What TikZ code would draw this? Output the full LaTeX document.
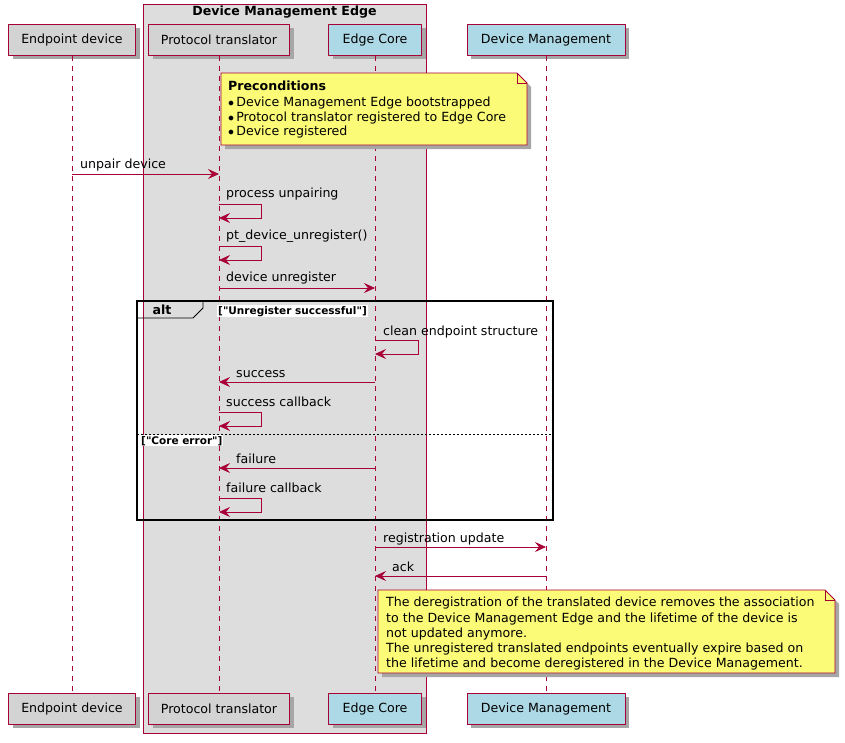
\documentclass[tikz,border=0pt]{standalone}
\usepackage{fontspec}
\setmainfont{DejaVu Sans}[Ligatures=TeXOff]
\usetikzlibrary{arrows.meta,calc}
\definecolor{crim}{HTML}{A80036}
\definecolor{pbox}{HTML}{D3D3D3}
\definecolor{lblue}{HTML}{ADD8E6}
\definecolor{grp}{HTML}{DDDDDD}
\definecolor{notey}{HTML}{FBFB77}
\begin{document}
\begin{tikzpicture}[x=1pt,y=-1pt,font=\fontsize{12.6}{14}\selectfont,
  part/.style={draw=crim,line width=0.8pt,minimum height=31pt,inner xsep=6pt,anchor=north},
  shad/.style={fill=black!35},
  life/.style={crim,dash pattern=on 5pt off 5pt,line width=0.7pt},
  msg/.style={crim,line width=0.8pt,-{Stealth[length=11pt,width=10pt,inset=4pt]}},
  lbl/.style={inner sep=0pt,anchor=base west},
  cond/.style={lbl,font=\fontsize{10.5}{12}\selectfont\bfseries,fill=white,inner xsep=1pt,inner ysep=1pt},
  note/.style={fill=notey,draw=crim,line width=0.8pt}]
\useasboundingbox (0,0) rectangle (845,742);
% group
\fill[grp] (143,4) rectangle (426,733);
\draw[crim,line width=0.8pt] (143,4) rectangle (426,733);
\node[font=\fontsize{12.6}{14}\selectfont\bfseries] (gt) at (284.5,12) {Device Management Edge};
% participants
\foreach \n/\x/\w/\c/\t in {ed/72/127/pbox/Endpoint device, pt/219/141/pbox/Protocol translator, ec/375/93/lblue/Edge Core, dm/546/158/lblue/Device Management}{
  \fill[shad] (\x-\w/2+4,28) rectangle (\x+\w/2+4,59);
  \node[part,fill=\c,minimum width=\w] (\n t) at (\x,24) {\t};
  \fill[shad] (\x-\w/2+4,697) rectangle (\x+\w/2+4,728);
  \node[part,fill=\c,minimum width=\w] (\n b) at (\x,693) {\t};
  \draw[life] (\n t.south) -- (\n b.north);
}
% note 1
\fill[shad] (225,77) -- (521,77) -- (531,87) -- (531,149) -- (225,149) -- cycle;
\draw[note] (221,73) -- (517,73) -- (527,83) -- (527,145) -- (221,145) -- cycle;
\draw[crim,line width=0.8pt] (517,73) -- (517,83) -- (527,83);
\node[lbl,font=\fontsize{12.6}{14}\selectfont\bfseries] (n1a) at (228,90) {Preconditions};
\node[lbl] (n1b) at (228,106) {$\bullet$\,Device Management Edge bootstrapped};
\node[lbl] (n1c) at (228,121) {$\bullet$\,Protocol translator registered to Edge Core};
\node[lbl] (n1d) at (228,135) {$\bullet$\,Device registered};
% messages
\draw[msg] (72,174) -- (219,174);
\node[lbl] (m1) at (80,168) {unpair device};
\draw[msg] (219,204) -- (261,204) -- (261,218) -- (219,218);
\node[lbl] (m2) at (226,197) {process unpairing};
\draw[msg] (219,246) -- (261,246) -- (261,260) -- (219,260);
\node[lbl] (m3) at (226,239) {pt\_device\_unregister()};
\draw[msg] (219,288) -- (375,288);
\node[lbl] (m4) at (226,281) {device unregister};
% alt
\draw[line width=1.5pt] (137,301) rectangle (553,520);
\draw[line width=0.8pt] (137,318) -- (193,318) -- (203,308) -- (203,301);
\node[font=\fontsize{12.6}{14}\selectfont\bfseries] (alt) at (162,310) {alt};
\node[cond] (c1) at (217,314) {["Unregister successful"]};
\draw[msg] (375,340) -- (418,340) -- (418,354) -- (375,354);
\node[lbl] (m5) at (383,335) {clean endpoint structure};
\draw[msg] (375,382) -- (219,382);
\node[lbl] (m6) at (236,377) {success};
\draw[msg] (219,412) -- (261,412) -- (261,426) -- (219,426);
\node[lbl] (m7) at (226,406) {success callback};
\draw[dash pattern=on 2pt off 2pt,line width=0.6pt] (137,434) -- (553,434);
\node[cond] (c2) at (140,444) {["Core error"]};
\draw[msg] (375,468) -- (219,468);
\node[lbl] (m8) at (236,463) {failure};
\draw[msg] (219,498) -- (261,498) -- (261,512) -- (219,512);
\node[lbl] (m9) at (226,492) {failure callback};
\draw[msg] (375,547) -- (546,547);
\node[lbl] (m10) at (383,542) {registration update};
\draw[msg] (546,576) -- (375,576);
\node[lbl] (m11) at (392,571) {ack};
% note 2
\fill[shad] (382,594) -- (829,594) -- (839,604) -- (839,677) -- (382,677) -- cycle;
\draw[note] (378,590) -- (825,590) -- (835,600) -- (835,673) -- (378,673) -- cycle;
\draw[crim,line width=0.8pt] (825,590) -- (825,600) -- (835,600);
\node[lbl] (n2a) at (386,606) {The deregistration of the translated device removes the association};
\node[lbl] (n2b) at (386,622) {to the Device Management Edge and the lifetime of the device is};
\node[lbl] (n2c) at (386,637) {not updated anymore.};
\node[lbl] (n2d) at (386,652) {The unregistered translated endpoints eventually expire based on};
\node[lbl] (n2e) at (386,667) {the lifetime and become deregistered in the Device Management.};
\end{tikzpicture}
\end{document}
